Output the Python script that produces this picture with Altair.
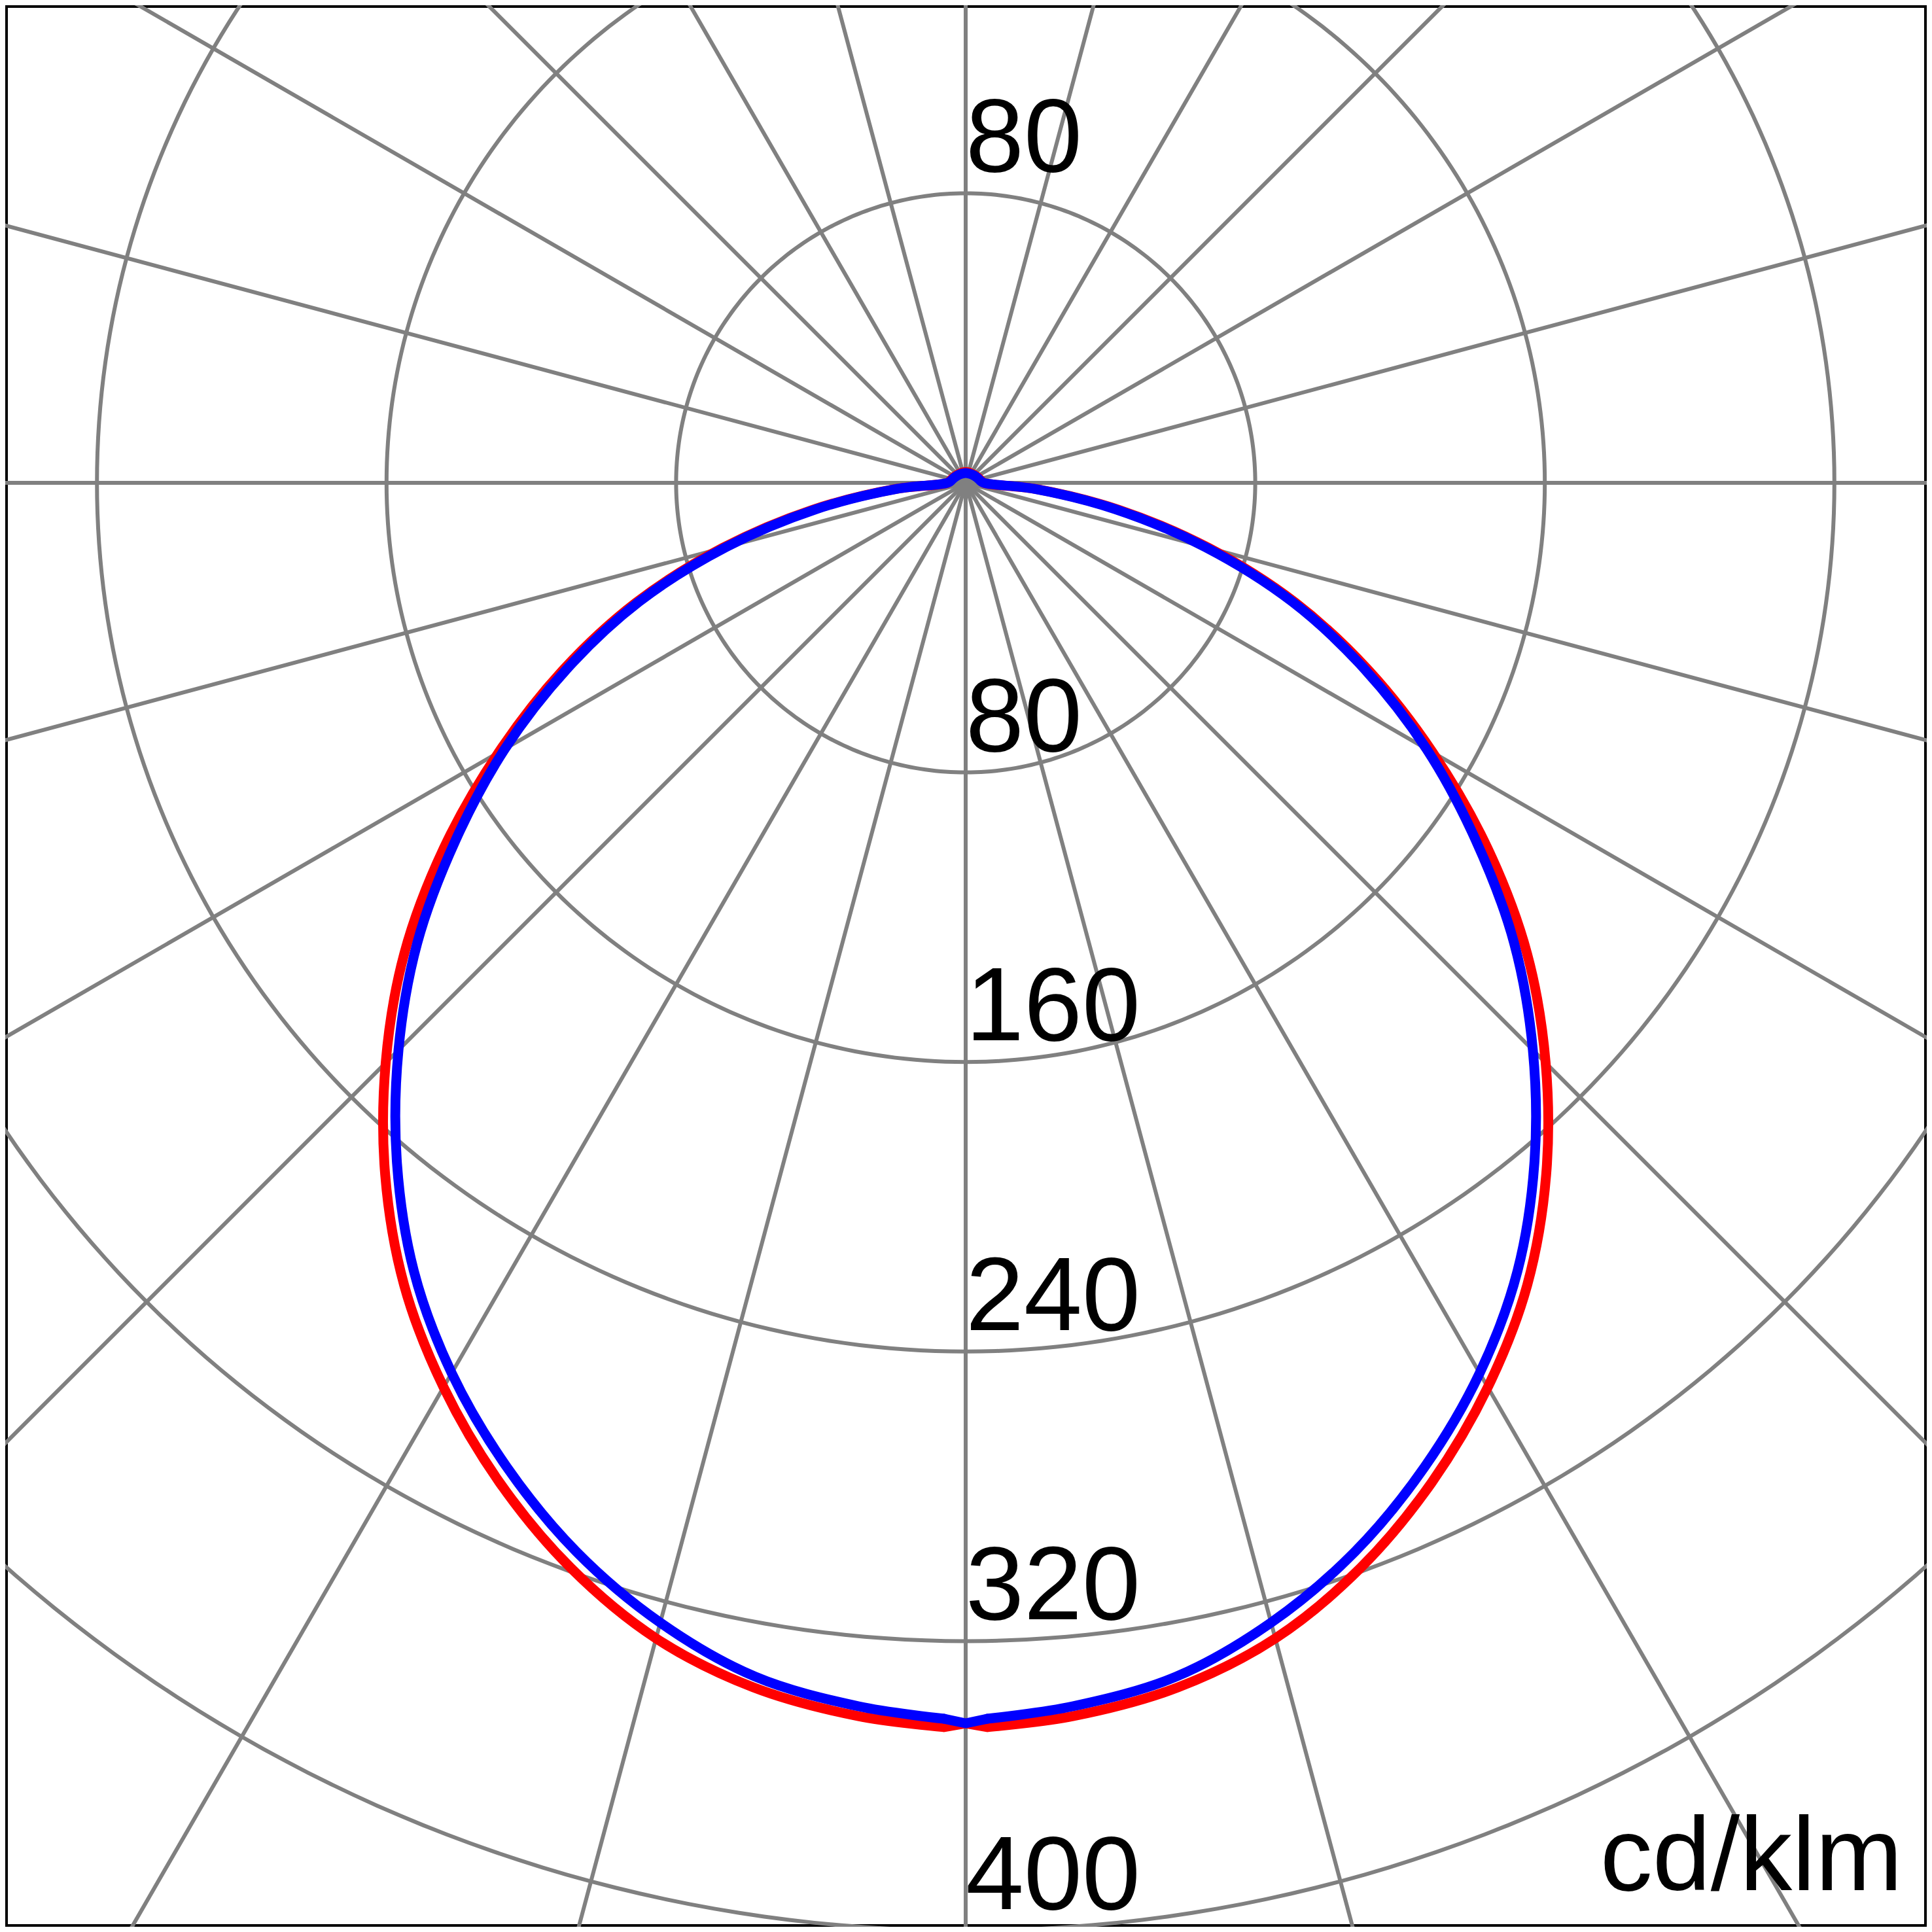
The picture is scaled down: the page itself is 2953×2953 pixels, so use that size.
import math
import altair as alt
import pandas as pd

# ---- data (cd/klm), gamma measured from nadir, curves are symmetric ----
gamma = [0, 1, 5, 10, 15, 20, 25, 30, 35, 40, 45, 50, 55, 60, 65, 70, 75, 80, 85, 90,
         100, 110, 120, 135, 150, 165, 180]
red_vals = [342.7, 343.8, 342.0, 337.9, 330.5, 319.0, 304.7, 288.5, 270.5, 249.5, 226.6,
            202.5, 176.0, 149.0, 123.0, 97.0, 69.5, 43.0, 19.5, 5.0,
            4.2, 3.8, 3.5, 3.2, 3.0, 3.0, 3.0]
blue_vals = [342.7, 341.5, 339.3, 334.9, 326.0, 314.3, 300.0, 284.0, 265.8, 244.5, 221.6,
             197.8, 172.0, 147.0, 121.5, 96.0, 68.5, 42.0, 19.0, 5.0,
             4.0, 3.6, 3.3, 3.0, 2.8, 2.7, 2.7]
rings = [80, 160, 240, 320, 400, 480]
lower_labels = ["80", "160", "240", "320", "400"]
upper_labels = ["80"]
spoke_step = 15
unit_text = "cd/klm"

# ---- layout ----
W = H = 2937
cx, cy = 1468, 730          # pole position in chart pixels
ppu = 442.6 / 80            # pixels per cd/klm
xdom = [-cx / ppu, (W - cx) / ppu]
ydom = [-(H - cy) / ppu, cy / ppu]
xs = alt.Scale(domain=xdom, nice=False, zero=False)
ys = alt.Scale(domain=ydom, nice=False, zero=False)
GRID = "#808080"
SPLIT = 1  # the nadir notch is drawn straight, the rest smoothed


def pt(g, r, side):
    a = math.radians(g)
    return side * r * math.sin(a), -r * math.cos(a)


def build(vals):
    smooth, near = [], []
    o = 0
    for g, r in zip(gamma, vals):
        if g >= SPLIT:
            x, y = pt(g, r, 1)
            smooth.append(dict(o=o, x=x, y=y)); o += 1
    for g, r in zip(reversed(gamma), reversed(vals)):
        if SPLIT <= g < 180:
            x, y = pt(g, r, -1)
            smooth.append(dict(o=o, x=x, y=y)); o += 1
    o = 0
    for g, r in zip(reversed(gamma), reversed(vals)):
        if g <= SPLIT:
            x, y = pt(g, r, -1)
            near.append(dict(o=o, x=x, y=y)); o += 1
    for g, r in zip(gamma, vals):
        if 0 < g <= SPLIT:
            x, y = pt(g, r, 1)
            near.append(dict(o=o, x=x, y=y)); o += 1
    return pd.DataFrame(smooth), pd.DataFrame(near)


red_s, red_n = build(red_vals)
blue_s, blue_n = build(blue_vals)

circ = []
for R in rings:
    for k in range(0, 361, 1):
        a = math.radians(k)
        circ.append(dict(ring=R, o=k, x=R * math.cos(a), y=R * math.sin(a)))
circ = pd.DataFrame(circ)

L = 700
spokes = []
for k in range(0, 180, spoke_step):
    a = math.radians(k)
    spokes.append(dict(x=-L * math.cos(a), y=-L * math.sin(a),
                       x2=L * math.cos(a), y2=L * math.sin(a)))
spokes = pd.DataFrame(spokes)

labs = [dict(x=0, y=-v, t=t) for v, t in zip(rings, lower_labels)]
labs += [dict(x=0, y=rings[0], t=upper_labels[0])]
labs = pd.DataFrame(labs)

enc = dict(x=alt.X("x:Q", scale=xs, axis=None), y=alt.Y("y:Q", scale=ys, axis=None))

circles = alt.Chart(circ).mark_line(color=GRID, strokeWidth=6, clip=True).encode(
    detail="ring:N", order="o:Q", **enc)
spk = alt.Chart(spokes).mark_rule(color=GRID, strokeWidth=6, clip=True).encode(
    x2="x2:Q", y2="y2:Q", **enc)


def curve(df, color, smooth):
    kw = dict(color=color, strokeWidth=15, strokeJoin="round", strokeCap="round", clip=True)
    if smooth:
        kw["interpolate"] = "catmull-rom"
    return alt.Chart(df).mark_line(**kw).encode(order="o:Q", **enc)


labels = alt.Chart(labs).mark_text(
    align="left", baseline="alphabetic", dy=-33, fontSize=160,
    font="Liberation Sans", color="black").encode(text="t:N", **enc)
unit = alt.Chart(pd.DataFrame({"t": [unit_text]})).mark_text(
    align="right", baseline="alphabetic", fontSize=160,
    font="Liberation Sans", color="black").encode(
    text="t:N", x=alt.value(2900), y=alt.value(2881))

chart = alt.layer(
    circles, spk,
    curve(red_s, "#FF0000", True), curve(red_n, "#FF0000", False),
    curve(blue_s, "#0000FF", True), curve(blue_n, "#0000FF", False),
    labels, unit,
).properties(
    width=W, height=H, padding=0, autosize="none"
).configure_view(stroke="black", strokeWidth=8)

chart.save("out.html", embed_options={"renderer": "svg", "actions": False})
